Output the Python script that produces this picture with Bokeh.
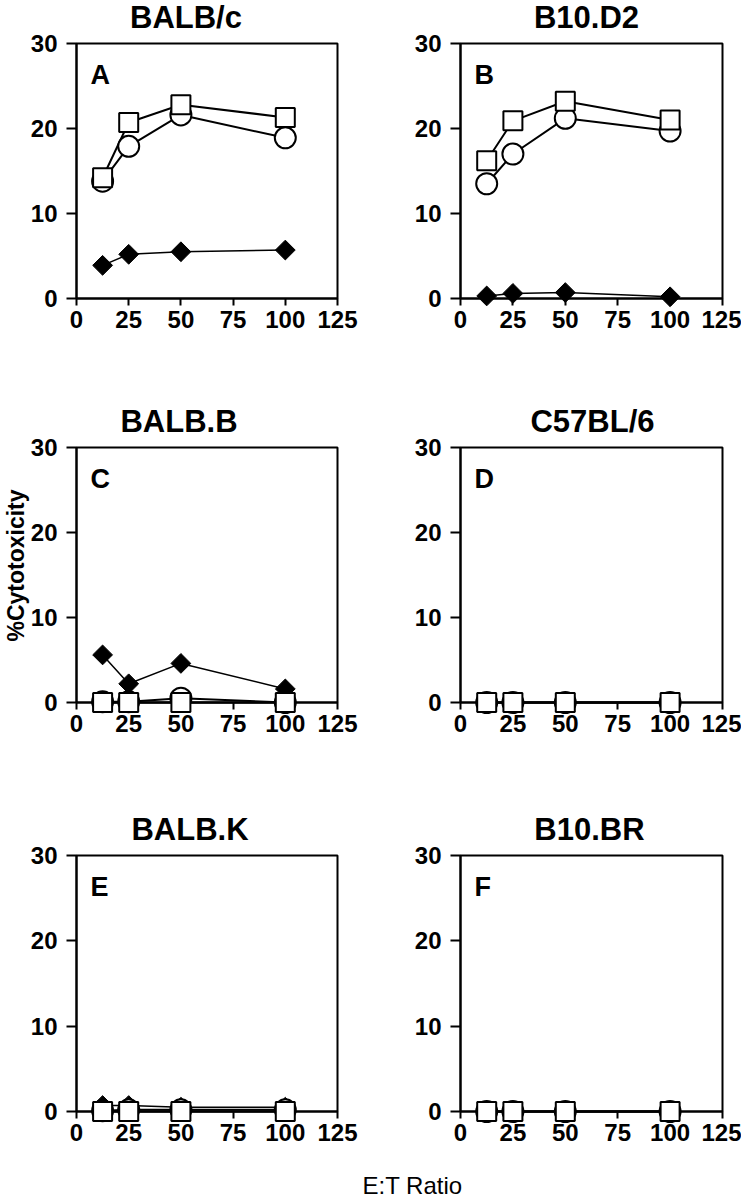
import math
from bokeh.plotting import figure
from bokeh.layouts import column, row
from bokeh.models import FixedTicker, Label, Range1d
from bokeh.core.properties import value
from bokeh.embed import file_html
from bokeh.resources import INLINE

# ---------------- data ----------------
et_ratio = [12.5, 25, 50, 100]
x_ticks = [0, 25, 50, 75, 100, 125]
y_ticks = [0, 10, 20, 30]

strains = ["BALB/c", "B10.D2", "BALB.B", "C57BL/6", "BALB.K", "B10.BR"]
letters = ["A", "B", "C", "D", "E", "F"]

# open squares
sq_A = [14.2, 20.7, 22.8, 21.3]
sq_B = [16.2, 20.9, 23.2, 21.0]
sq_C = [0.0, 0.0, 0.0, 0.0]
sq_D = [0.0, 0.0, 0.0, 0.0]
sq_E = [0.0, 0.0, 0.0, 0.0]
sq_F = [0.0, 0.0, 0.0, 0.0]
# open circles
ci_A = [13.8, 17.9, 21.6, 18.9]
ci_B = [13.5, 17.0, 21.2, 19.7]
ci_C = [0.1, 0.1, 0.5, 0.0]
ci_D = [0.0, 0.0, 0.0, 0.0]
ci_E = [0.1, 0.2, 0.2, 0.2]
ci_F = [0.0, 0.0, 0.0, 0.0]
# filled diamonds
di_A = [3.9, 5.2, 5.5, 5.7]
di_B = [0.3, 0.6, 0.7, 0.2]
di_C = [5.6, 2.2, 4.6, 1.6]
di_D = [0.0, 0.0, 0.0, 0.0]
di_E = [0.7, 0.7, 0.5, 0.5]
di_F = [0.0, 0.0, 0.0, 0.0]

squares = [sq_A, sq_B, sq_C, sq_D, sq_E, sq_F]
circles = [ci_A, ci_B, ci_C, ci_D, ci_E, ci_F]
diamonds = [di_A, di_B, di_C, di_D, di_E, di_F]

FONT = "Liberation Sans"

# layout geometry: (width, min_border_left, min_border_right) per column
COLS = [(380, 76, 43), (361, 80, 19)]
# (height, min_border_top, min_border_bottom) per row
ROWS = [(390, 43, 92), (400, 57, 88), (363, 65, 42)]


def make_panel(i):
    c = i % 2
    r = i // 2
    w, mbl, mbr = COLS[c]
    h, mbt, mbb = ROWS[r]
    p = figure(width=w, height=h, x_range=Range1d(0, 125), y_range=Range1d(0, 30),
               output_backend="svg", toolbar_location=None,
               min_border_left=mbl, min_border_right=mbr,
               min_border_top=mbt, min_border_bottom=mbb)
    p.xgrid.visible = False
    p.ygrid.visible = False
    p.outline_line_color = "black"
    p.outline_line_width = 2
    p.outline_line_alpha = 1.0
    p.background_fill_color = "white"
    p.border_fill_color = "white"

    for ax, ticks, tout, stand in ((p.xaxis, x_ticks, 7, 5), (p.yaxis, y_ticks, 10, 9)):
        ax.ticker = FixedTicker(ticks=ticks)
        ax.minor_tick_line_color = None
        ax.major_tick_out = tout
        ax.major_tick_in = 0
        ax.axis_line_width = 2
        ax.major_tick_line_width = 2
        ax.axis_line_color = "black"
        ax.major_tick_line_color = "black"
        ax.major_label_text_font = FONT
        ax.major_label_text_font_style = "bold"
        ax.major_label_text_font_size = "24px"
        ax.major_label_text_color = "black"
        ax.major_label_standoff = stand

    # lines
    for ys, lw in ((diamonds[i], 1.5), (circles[i], 2), (squares[i], 2)):
        rl = p.line(et_ratio, ys, line_color="black", line_width=lw)
        rl.level = "overlay"
    rd = p.scatter(et_ratio, diamonds[i], marker="square", angle=math.pi / 4, size=14,
                   fill_color="black", line_color="black", line_width=1)
    rc = p.scatter(et_ratio, circles[i], marker="circle", size=21,
                   fill_color="white", line_color="black", line_width=2)
    rs = p.scatter(et_ratio, squares[i], marker="square", size=19,
                   fill_color="white", line_color="black", line_width=2)
    for rr in (rd, rc, rs):
        rr.level = "overlay"

    # panel title above the frame (anchored at top-centre of the frame)
    title_dx = [-21, -5, -28, 1, -17, -2][i]
    tt = p.text(x=[62.5], y=[30], text=[strains[i]], x_offset=title_dx, y_offset=-26,
                text_font=value(FONT), text_font_style="bold", text_font_size="31px",
                text_align="center", text_baseline="middle", text_color="black")
    tt.level = "overlay"
    # panel letter inside the frame (top-left)
    lt = p.text(x=[0], y=[30], text=[letters[i]], x_offset=14, y_offset=31,
                text_font=value(FONT), text_font_style="bold", text_font_size="27px",
                text_align="left", text_baseline="middle", text_color="black")
    lt.level = "overlay"
    if i == 2:
        yl = p.text(x=[0], y=[0], text=["%Cytotoxicity"], x_offset=-61, y_offset=-137,
                    angle=math.pi / 2, text_font=value(FONT), text_font_style="bold",
                    text_font_size="23px", text_align="center", text_baseline="middle",
                    text_color="black")
        yl.level = "overlay"
    return p


panels = [make_panel(i) for i in range(6)]

lab = figure(width=741, height=45, x_range=Range1d(0, 741), y_range=Range1d(0, 45),
             output_backend="svg", toolbar_location=None,
             min_border=0, min_border_left=0, min_border_right=0,
             min_border_top=0, min_border_bottom=0)
lab.axis.visible = False
lab.xgrid.visible = False
lab.ygrid.visible = False
lab.outline_line_color = None
lab.add_layout(Label(x=412, y=13, x_units="screen", y_units="screen", text="E:T Ratio",
                     text_font=FONT, text_font_size="24px", text_align="center",
                     text_baseline="middle", text_color="black"))

layout = column(row(panels[0], panels[1]), row(panels[2], panels[3]),
                row(panels[4], panels[5]), lab)

open("out.html", "w").write(file_html(layout, INLINE))
